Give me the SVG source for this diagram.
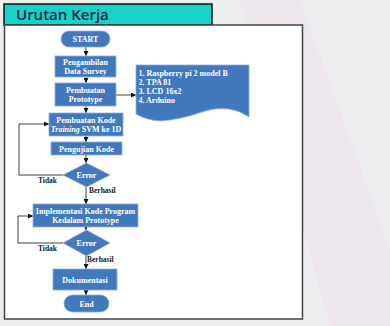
<svg xmlns="http://www.w3.org/2000/svg" width="390" height="326" viewBox="0 0 390 326">
<defs>
<style>
.node{fill:#4279bd;stroke:#8eb0da;stroke-width:0.8}
.t{font-family:"Liberation Serif",serif;font-weight:bold;font-size:8px;fill:#ffffff;text-anchor:middle}
.tl{font-family:"Liberation Serif",serif;font-weight:bold;font-size:8px;fill:#ffffff}
.lbl{font-family:"Liberation Serif",serif;font-weight:bold;font-size:7.5px;fill:#1a1a1a}
.c{fill:none;stroke:#111;stroke-width:0.8}
</style>
<marker id="ah" viewBox="0 0 6 6" refX="6" refY="3" markerWidth="5" markerHeight="5" orient="auto" markerUnits="userSpaceOnUse">
<path d="M0,0 L6,3 L0,6 z" fill="#111"/>
</marker>
</defs>
<rect x="0" y="0" width="390" height="326" fill="#eeedef"/>
<polygon points="240,0 300,0 390,250 390,326 330,326" fill="#efe3ec" opacity="0.6"/>
<g id="title">
<rect x="4" y="4" width="208" height="21" fill="#17d3c7" stroke="#111" stroke-width="1.5"/>
<text x="16" y="20" font-family="Open Sans, sans-serif" font-weight="600" font-size="15" fill="#15254a">Urutan Kerja</text>
</g>
<g id="panel">
<rect x="4.5" y="25" width="298" height="294" fill="#ffffff" stroke="#444" stroke-width="1.5"/>
</g>
<g id="connectors">
<path class="c" d="M86,47 V56" marker-end="url(#ah)"/>
<path class="c" d="M86,77 V83" marker-end="url(#ah)"/>
<path class="c" d="M86,106 V113" marker-end="url(#ah)"/>
<path class="c" d="M116,95 H136" marker-end="url(#ah)"/>
<path class="c" d="M86,136 V142" marker-end="url(#ah)"/>
<path class="c" d="M86,155 V163" marker-end="url(#ah)"/>
<path class="c" d="M63,175 H19 V124 H49" marker-end="url(#ah)"/>
<path class="c" d="M86,187 V204" marker-end="url(#ah)"/>
<path class="c" d="M86,227 V230" marker-end="url(#ah)"/>
<path class="c" d="M63,243 H18 V216 H33" marker-end="url(#ah)"/>
<path class="c" d="M86,256 V269" marker-end="url(#ah)"/>
<path class="c" d="M86,290 V295" marker-end="url(#ah)"/>
<text class="lbl" x="38" y="183">Tidak</text>
<text class="lbl" x="89" y="193">Berhasil</text>
<text class="lbl" x="38" y="251">Tidak</text>
<text class="lbl" x="87" y="262">Berhasil</text>
</g>
<g id="start">
<rect class="node" x="61" y="31" width="49" height="16" rx="8"/>
<text class="t" x="85.5" y="42" font-size="8.5">START</text>
</g>
<g id="pengambilan">
<rect class="node" x="55" y="56" width="61" height="21"/>
<text class="t" x="85.5" y="64.5">Pengambilan</text>
<text class="t" x="85.5" y="74">Data Survey</text>
</g>
<g id="prototype">
<rect class="node" x="55" y="83" width="61" height="23"/>
<text class="t" x="85.5" y="92.5">Pembuatan</text>
<text class="t" x="85.5" y="102">Prototype</text>
</g>
<g id="hardware">
<path class="node" d="M136,65 H249 V117 Q230,104 205,111 Q180,120 160,121 Q146,120 136,114 Z"/>
<text class="tl" x="138.5" y="75.5">1. Raspberry pi 2 model B</text>
<text class="tl" x="138.5" y="84.5">2. TPA 81</text>
<text class="tl" x="138.5" y="93.5">3. LCD 16x2</text>
<text class="tl" x="138.5" y="102.5">4. Arduino</text>
</g>
<g id="training">
<rect class="node" x="49" y="113" width="74" height="23"/>
<text class="t" x="86" y="122.5">Pembuatan Kode</text>
<text class="t" x="86" y="132"><tspan font-style="italic">Training</tspan> SVM ke 1D</text>
</g>
<g id="pengujian">
<rect class="node" x="51" y="142" width="71" height="13"/>
<text class="t" x="86.5" y="151.5">Pengujian Kode</text>
</g>
<g id="error1">
<polygon class="node" points="86.5,163 110,175 86.5,187 63,175"/>
<text class="t" x="86.5" y="178">Error</text>
</g>
<g id="implementasi">
<rect class="node" x="33" y="204" width="105" height="23"/>
<text class="t" x="85.5" y="213.5">Implementasi Kode Program</text>
<text class="t" x="85.5" y="223">Kedalam Prototype</text>
</g>
<g id="error2">
<polygon class="node" points="86.5,230 110,243 86.5,256 63,243"/>
<text class="t" x="86.5" y="246">Error</text>
</g>
<g id="dokumentasi">
<rect class="node" x="53" y="269" width="64" height="21"/>
<text class="t" x="85" y="282.5">Dokumentasi</text>
</g>
<g id="end">
<rect class="node" x="64" y="295" width="45" height="17" rx="8.5"/>
<text class="t" x="86.5" y="306.5" font-size="8.5">End</text>
</g>
</svg>
